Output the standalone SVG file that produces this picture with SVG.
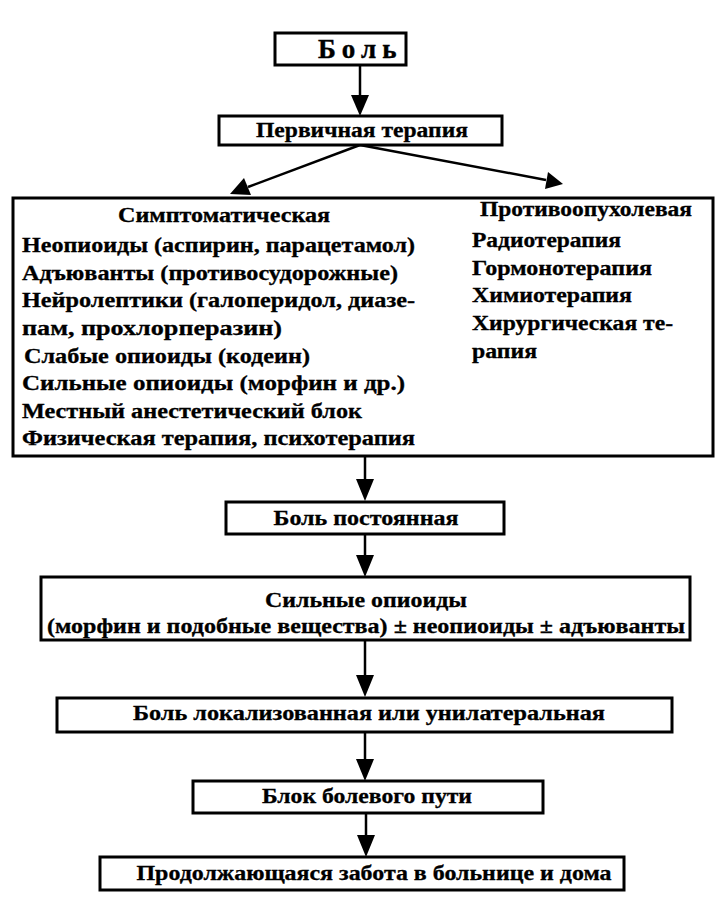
<svg xmlns="http://www.w3.org/2000/svg" width="726" height="907" viewBox="0 0 726 907">
<defs>
<style>
.box{fill:#fff;stroke:#000;stroke-width:3}
.t{font-family:'Liberation Serif','DejaVu Serif',serif;font-weight:bold;font-size:20px;fill:#000;stroke:#000;stroke-width:0.3}
.big{font-family:'Liberation Serif','DejaVu Serif',serif;font-weight:bold;font-size:27px;fill:#000;stroke:#000;stroke-width:0.4;letter-spacing:6px}
.c{text-anchor:middle}
.con line{stroke:#000;stroke-width:2.5}
</style>
</defs>
<rect width="726" height="907" fill="#fff"/>
<g class="con">
<line x1="360" y1="65" x2="360" y2="96"/>
<path d="M351,95 L369,95 L360,116 Z"/>
<line x1="360" y1="145" x2="248" y2="187"/>
<path d="M230,194 L244,178 L251,195 Z"/>
<line x1="360" y1="145" x2="546" y2="180"/>
<path d="M563,184 L545,189 L548,172 Z"/>
<line x1="365" y1="456" x2="365" y2="481"/>
<path d="M356,479 L374,479 L365,501 Z"/>
<line x1="365" y1="534" x2="365" y2="557"/>
<path d="M356,555 L374,555 L365,577 Z"/>
<line x1="365" y1="640" x2="365" y2="677"/>
<path d="M356,675 L374,675 L365,697 Z"/>
<line x1="365" y1="732" x2="365" y2="761"/>
<path d="M356,759 L374,759 L365,781 Z"/>
<line x1="366" y1="813" x2="366" y2="837"/>
<path d="M357,835 L375,835 L366,857 Z"/>
</g>
<g id="n_bol">
<rect class="box" x="275" y="33" width="131" height="32"/>
<text class="big" x="318" y="58">Боль</text>
</g>
<g id="n_perv">
<rect class="box" x="219" y="116" width="283" height="29"/>
<text class="t c" x="362" y="137" textLength="212" lengthAdjust="spacingAndGlyphs">Первичная терапия</text>
</g>
<g id="n_main">
<rect class="box" x="13" y="198" width="700" height="258"/>
<text class="t c" x="224" y="222" textLength="212" lengthAdjust="spacingAndGlyphs">Симптоматическая</text>
<text class="t" x="22" y="252" textLength="393" lengthAdjust="spacingAndGlyphs">Неопиоиды (аспирин, парацетамол)</text>
<text class="t" x="22" y="280" textLength="376" lengthAdjust="spacingAndGlyphs">Адъюванты (противосудорожные)</text>
<text class="t" x="22" y="307" textLength="393" lengthAdjust="spacingAndGlyphs">Нейролептики (галоперидол, диазе-</text>
<text class="t" x="22" y="335" textLength="260" lengthAdjust="spacingAndGlyphs">пам, прохлорперазин)</text>
<text class="t" x="24" y="363" textLength="286" lengthAdjust="spacingAndGlyphs">Слабые опиоиды (кодеин)</text>
<text class="t" x="22" y="390" textLength="383" lengthAdjust="spacingAndGlyphs">Сильные опиоиды (морфин и др.)</text>
<text class="t" x="22" y="418" textLength="340" lengthAdjust="spacingAndGlyphs">Местный анестетический блок</text>
<text class="t" x="22" y="445" textLength="393" lengthAdjust="spacingAndGlyphs">Физическая терапия, психотерапия</text>
<text class="t" x="480" y="216" textLength="212" lengthAdjust="spacingAndGlyphs">Противоопухолевая</text>
<text class="t" x="472" y="247" textLength="149" lengthAdjust="spacingAndGlyphs">Радиотерапия</text>
<text class="t" x="472" y="275" textLength="180" lengthAdjust="spacingAndGlyphs">Гормонотерапия</text>
<text class="t" x="472" y="302" textLength="160" lengthAdjust="spacingAndGlyphs">Химиотерапия</text>
<text class="t" x="472" y="330" textLength="201" lengthAdjust="spacingAndGlyphs">Хирургическая те-</text>
<text class="t" x="472" y="358" textLength="65" lengthAdjust="spacingAndGlyphs">рапия</text>
</g>
<g id="n_post">
<rect class="box" x="226" y="502" width="278" height="32"/>
<text class="t c" x="366" y="525" textLength="185" lengthAdjust="spacingAndGlyphs">Боль постоянная</text>
</g>
<g id="n_opioid">
<rect class="box" x="41" y="577" width="649" height="63"/>
<text class="t c" x="366" y="607" textLength="202" lengthAdjust="spacingAndGlyphs">Сильные опиоиды</text>
<text class="t c" x="366" y="633" textLength="638" lengthAdjust="spacingAndGlyphs">(морфин и подобные вещества) ± неопиоиды ± адъюванты</text>
</g>
<g id="n_local">
<rect class="box" x="57" y="698" width="615" height="34"/>
<text class="t c" x="369" y="720" textLength="472" lengthAdjust="spacingAndGlyphs">Боль локализованная или унилатеральная</text>
</g>
<g id="n_blok">
<rect class="box" x="193" y="781" width="350" height="32"/>
<text class="t c" x="367" y="803" textLength="210" lengthAdjust="spacingAndGlyphs">Блок болевого пути</text>
</g>
<g id="n_zabota">
<rect class="box" x="100" y="857" width="524" height="33"/>
<text class="t c" x="374" y="880" textLength="475" lengthAdjust="spacingAndGlyphs">Продолжающаяся забота в больнице и дома</text>
</g>
</svg>
